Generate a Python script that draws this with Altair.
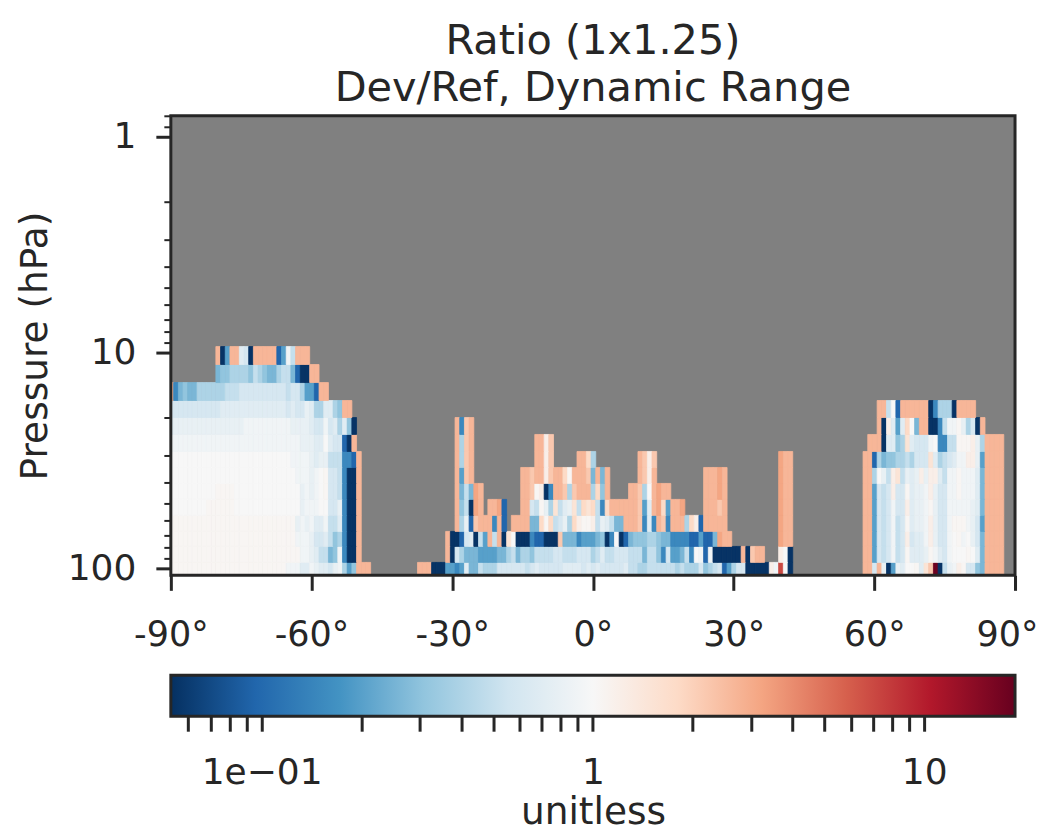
import altair as alt
import pandas as pd

FONT = "DejaVu Sans"
INK = "#262626"

# value of each colour letter
LEVELS = {"a": 0.055, "b": 0.096, "c": 0.15, "d": 0.2, "e": 0.26, "f": 0.31, "g": 0.4,
          "h": 0.5, "i": 0.6, "j": 0.7, "k": 0.8, "l": 0.9, "m": 1.0, "n": 1.05,
          "o": 1.2, "p": 1.5, "q": 1.8, "r": 2.2, "s": 2.68, "t": 3.2, "u": 5.0,
          "v": 7.0, "w": 18.0}

# pressure edges of the levels, bottom to top (hPa)
P_EDGES = [107.7, 93.8, 79.1, 67.4, 56.8, 47.9, 40.4, 34.07, 28.73, 23.96, 20.0, 16.68, 13.77, 11.36, 9.38]

# each level, bottom to top: (first column, letters)
ROW_01 = [(0, "nnnnnnnnnnnnnnnnnnnnnnnnn" + "lll" + "jjlkjjikl" + "gdf" + "sss"),
          (53, "sssaaaddcdjeehgggiiiiiihijiiiiijjjjijijiiiiijhhgghhhhhhghgggifghibdgiiaaaaaolvma"),
          (148, "ssiskadkjmmnjprwahkloniifessss")]
ROW_02 = [(0, "nnnnnnnnnnnnnnnnnnnnnnnnnnnn" + "llkjhhefl" + "caa" + "s"),
          (59, "saigeeeddddeeghegg" + "fhhhhiihhhiiighjhhiiihhhehhfcidde" + "hcmlblaaaaaasarss"),
          (130, "oma"),
          (148, "ssdihilhinjjjknljilmmmnmjessss")]
ROW_03 = [(0, "nnnnnnnnnnnnnnnnnnnnnnnnnnn" + "lllkiijhfg" + "caa" + "s"),
          (59, "saabijahdshsapmaaacbbaaareeecdddefacmabefffggfeeccccbbdbbetss"),
          (130, "tss"),
          (148, "ssdihilhioijjlokiilmnlmkiessss")]
ROW_04 = [(0, "nnnnnnnnnnnnnnnnnnnnnnnnnnn" + "klkljjlhhj" + "caa" + "s"),
          (61, "sgkbrssscsb"),
          (73, "ssss" + "eeqnqhikgqonnohkjhee" + "sssrcjcsrcsssgqob" + "sssss"),
          (130, "tss"),
          (148, "ssdihilhinjkkloki" + "ilnnnlkid" + "ssss")]
ROW_05 = [(0, "mmmmmmmmnnnnnnmmmmmmmmmmmmmm" + "klllmmiik" + "caa" + "s"),
          (61, "sfhats"),
          (68, "sstb"),
          (75, "ssihnkgphjkphqpqhcq" + "ssssss" + "rdjstqdsst"),
          (114, "sssrs"),
          (130, "tss"),
          (148, "ssdihiliiojkklnkiilllllkjessss")]
ROW_06 = [(0, "mmmmmmmmmmnnnnmmmmmmmmmmmmmm" + "klklmniih" + "caa" + "s"),
          (61, "sehets"),
          (75, "ssrnoacssrgrsssgqfs"),
          (98, "ssrgmstss"),
          (114, "sssts"),
          (130, "tss"),
          (148, "ssdihioiinjkklokiillnllljessss")]
ROW_07 = [(0, "mmmmmmmmmmmmmmmmmmmmmmmmmmm" + "lllklmniih" + "caa" + "s"),
          (61, "sdrs"),
          (75, "ssrssorssqnsssreses"),
          (100, "sros"),
          (114, "sssts"),
          (130, "tss"),
          (148, "ssgmkhophkjkokoojhllnllljessss")]
ROW_08 = [(0, "mmmmmmmmmmmmmmmmmmmmmmmmmm" + "llllkjkkhhh" + "ccb" + "s"),
          (61, "sgrs"),
          (78, "ssor"),
          (87, "ssqg"),
          (100, "sror"),
          (130, "tss"),
          (148, "ssbgeffgghgiiipjghijlloo" + "kd" + "ssss")]
ROW_09 = [(0, "llllllllllllllllllllllllllll" + "kkkjjmjii" + "ba" + "s"),
          (61, "sgrs"),
          (78, "ssor"),
          (149, "sssajjfgpjiiilmcchhnnnokg" + "ssss")]
ROW_10 = [(0, "jkkkkkkkkkkkkkkkllllllllll" + "kkkkjiilijgjfas"[:14]),
          (61, "scrs"),
          (151, "saojdjqmessaachllnkgias")]
ROW_11 = [(0, "iiiiiiiiiii" + "jjjjjjjjjjjjjj" + "ijiikjggjjgf" + "ss"),
          (151, "sshmb" + "ssssss" + "acggga" + "ssss")]
ROW_12 = [(0, "scefee" + "gggggg" + "hhh" + "iiiiiiiiii" + "hiigddb" + "ss")]
ROW_13 = [(10, "effggggfhgfeeghheb" + "aa" + "ss")]
ROW_14 = [(10, "sadss" + "jia" + "sssss" + "bdlh" + "sss")]
ROWS = [ROW_01, ROW_02, ROW_03, ROW_04, ROW_05, ROW_06, ROW_07,
        ROW_08, ROW_09, ROW_10, ROW_11, ROW_12, ROW_13, ROW_14]

LON_TICKS = [-90, -60, -30, 0, 30, 60, 90]
P_MAJOR = [1, 10, 100]
P_MINOR = [0.8, 0.9, 2, 3, 4, 5, 6, 7, 8, 9, 20, 30, 40, 50, 60, 70, 80, 90]
CB_TICKS = [0.06, 0.07, 0.08, 0.09, 0.1, 0.2, 0.3, 0.4, 0.5, 0.6, 0.7, 0.8, 0.9, 1,
            2, 3, 4, 5, 6, 7, 8, 9, 10]
P_DOMAIN = [107.7, 0.8]
LON_DOMAIN = [-90, 90]
CB_DOMAIN = [0.0532, 18.8]
RDBU = ["#053061", "#2166ac", "#4393c3", "#92c5de", "#d1e5f0", "#f7f7f7",
        "#fddbc7", "#f4a582", "#d6604d", "#b2182b", "#67001f"]
COLOR_STOPS = [0.0532, 0.0956, 0.1722, 0.31, 0.5574, 1.0, 1.794, 3.226, 5.80, 10.43, 18.8]

cells = []
for r, row in enumerate(ROWS):
    for start, letters in row:
        for n, ch in enumerate(letters):
            c = start + n
            cells.append({"lon0": max(-90.0, -90.4 + c), "lon1": -89.4 + c,
                          "p0": P_EDGES[r], "p1": P_EDGES[r + 1], "ratio": LEVELS[ch]})
df = pd.DataFrame(cells)

color_scale = alt.Scale(type="log", domain=COLOR_STOPS, range=RDBU, interpolate="rgb", clamp=True)
lon_scale = alt.Scale(domain=LON_DOMAIN, nice=False, zero=False)
p_scale = alt.Scale(type="log", domain=P_DOMAIN, nice=False, zero=False)
lon_axis = alt.Axis(values=LON_TICKS, title=None, labelExpr="datum.value + '°'",
                    grid=False, domain=False, tickSize=15, tickWidth=3, tickColor=INK,
                    labelFontSize=35, labelFont=FONT, labelColor=INK, labelPadding=27,
                    labelOffset={"condition": {"test": "datum.value == 90", "value": -8}, "value": 0},
                    labelFlush=False, labelBound=False, labelOverlap=False)

rects = alt.Chart(df).mark_rect(strokeWidth=0.8).encode(
    x=alt.X("lon0:Q", scale=lon_scale, axis=lon_axis),
    x2="lon1:Q",
    y=alt.Y("p0:Q", scale=p_scale,
            axis=alt.Axis(values=P_MAJOR, format="d", title="Pressure (hPa)", grid=False,
                          domain=False, tickSize=15, tickWidth=3, tickColor=INK,
                          labelFontSize=36, labelFont=FONT, labelColor=INK, labelPadding=20,
                          labelOverlap=False, labelBound=False, labelFlush=False,
                          titleFontSize=37.5, titleFont=FONT, titleColor=INK,
                          titleFontWeight="normal", titlePadding=13)),
    y2="p1:Q",
    color=alt.Color("ratio:Q", scale=color_scale, legend=None),
    stroke=alt.Stroke("ratio:Q", scale=color_scale, legend=None),
)

minor = alt.Chart(pd.DataFrame({"p": P_MINOR})).mark_point(opacity=0).encode(
    y=alt.Y("p:Q", scale=p_scale,
            axis=alt.Axis(values=P_MINOR, orient="left", title=None, labels=False, grid=False,
                          domain=False, tickSize=7, tickWidth=2, tickColor=INK)),
)

frame = alt.Chart(pd.DataFrame({"a": [LON_DOMAIN[0]], "b": [LON_DOMAIN[1]],
                                "c": [P_DOMAIN[0]], "d": [P_DOMAIN[1]]})).mark_rect(
    fillOpacity=0, stroke=INK, strokeWidth=3).encode(
    x=alt.X("a:Q", scale=lon_scale, axis=lon_axis), x2="b:Q",
    y=alt.Y("c:Q", scale=p_scale, axis=None), y2="d:Q",
)

top = alt.layer(rects, minor, frame).resolve_axis(y="independent").properties(
    width=845, height=460,
    title=alt.TitleParams(["Ratio (1x1.25)", "Dev/Ref, Dynamic Range"], fontSize=41.5, font=FONT,
                          color=INK, fontWeight="normal", anchor="middle", lineHeight=47, offset=4),
)

cb_fill = alt.Gradient(gradient="linear", x1=0, x2=1, y1=0, y2=0,
                       stops=[alt.GradientStop(offset=i / 10, color=col) for i, col in enumerate(RDBU)])
bar = alt.Chart(pd.DataFrame({"lo": [CB_DOMAIN[0]], "hi": [CB_DOMAIN[1]]})).mark_rect(
    color=cb_fill, stroke=INK, strokeWidth=3).encode(
    x=alt.X("lo:Q", scale=alt.Scale(type="log", domain=CB_DOMAIN, nice=False, zero=False),
            axis=alt.Axis(values=CB_TICKS, title="unitless", grid=False, domain=False,
                          tickSize=15, tickWidth=3, tickColor=INK,
                          labelExpr="datum.value==0.1 ? '1e−01' : datum.value==1 ? '1' : datum.value==10 ? '10' : ''",
                          labelFontSize=36, labelFont=FONT, labelColor=INK, labelPadding=24,
                          labelOverlap=False, labelFlush=False, labelBound=False,
                          titleFontSize=37.5, titleFont=FONT, titleColor=INK,
                          titleFontWeight="normal", titlePadding=3)),
    x2="hi:Q",
    y=alt.value(0),
    y2=alt.value(41),
).properties(width=845, height=41)

chart = alt.vconcat(top, bar, spacing=21).properties(
    padding={"left": 8, "top": 11.5, "right": 0, "bottom": 0},
    background="white",
).configure_view(strokeWidth=0, fill="#808080", continuousWidth=845)

chart.save("out.html", embed_options={"renderer": "svg", "actions": False})
